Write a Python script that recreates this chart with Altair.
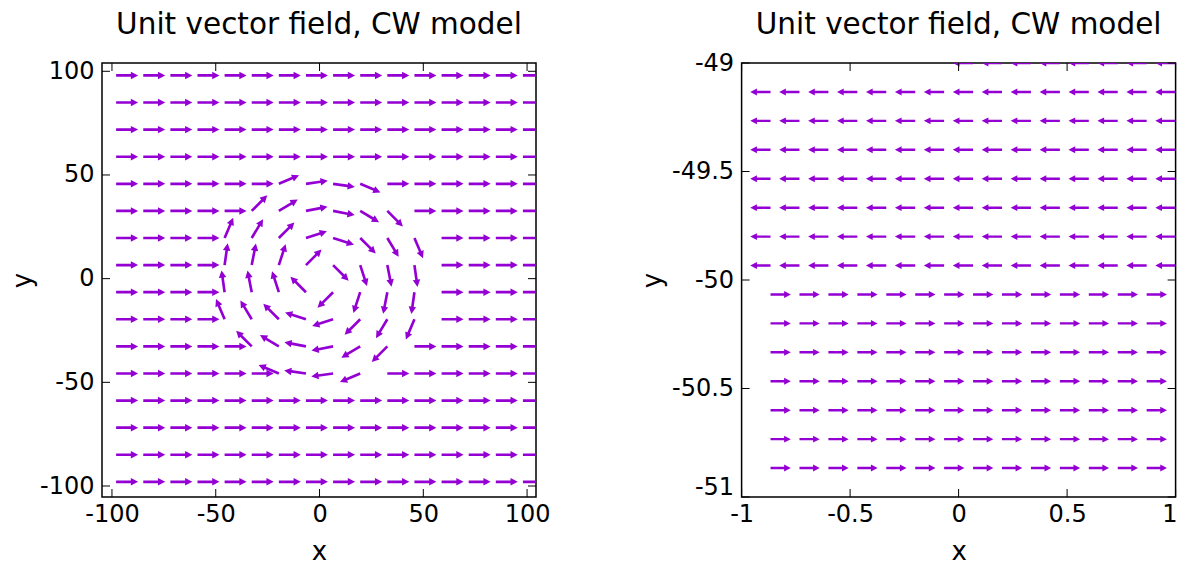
import altair as alt
import pandas as pd

TITLE = "Unit vector field, CW model"
PURPLE = "#9400d3"
FONT = "DejaVu Sans"

# ---------------- left panel: grid positions and arrow directions (deg, CCW from +x)
LEFT_X = [-98.0, -84.93, -71.87, -58.8, -45.73, -32.67, -19.6, -6.53,
          6.53, 19.6, 32.67, 45.73, 58.8, 71.87, 84.93, 98.0]
LEFT_Y = [98.0, 84.93, 71.87, 58.8, 45.73, 32.67, 19.6, 6.53,
          -6.53, -19.6, -32.67, -45.73, -58.8, -71.87, -84.93, -98.0]
LEFT_ANGLE = [
    [0, 0, 0, 0, 0, 0, 0, 0, 0, 0, 0, 0, 0, 0, 0, 0],
    [0, 0, 0, 0, 0, 0, 0, 0, 0, 0, 0, 0, 0, 0, 0, 0],
    [0, 0, 0, 0, 0, 0, 0, 0, 0, 0, 0, 0, 0, 0, 0, 0],
    [0, 0, 0, 0, 0, 0, 0, 0, 0, 0, 0, 0, 0, 0, 0, 0],
    [0, 0, 0, 0, 0, 0, 23, 8, -8, -23, 0, 0, 0, 0, 0, 0],
    [0, 0, 0, 0, 0, 45, 31, 11, -11, -31, -45, 0, 0, 0, 0, 0],
    [0, 0, 0, 0, 67, 59, 45, 18, -18, -45, -59, -67, 0, 0, 0, 0],
    [0, 0, 0, 0, 82, 79, 72, 45, -45, -72, -79, -82, 0, 0, 0, 0],
    [0, 0, 0, 0, 98, 101, 108, 135, -135, -108, -101, -98, 0, 0, 0, 0],
    [0, 0, 0, 0, 113, 121, 135, 162, -162, -135, -121, -113, 0, 0, 0, 0],
    [0, 0, 0, 0, 0, 135, 149, 169, -169, -149, -135, 0, 0, 0, 0, 0],
    [0, 0, 0, 0, 0, 0, 157, 172, -172, -157, 0, 0, 0, 0, 0, 0],
    [0, 0, 0, 0, 0, 0, 0, 0, 0, 0, 0, 0, 0, 0, 0, 0],
    [0, 0, 0, 0, 0, 0, 0, 0, 0, 0, 0, 0, 0, 0, 0, 0],
    [0, 0, 0, 0, 0, 0, 0, 0, 0, 0, 0, 0, 0, 0, 0, 0],
    [0, 0, 0, 0, 0, 0, 0, 0, 0, 0, 0, 0, 0, 0, 0, 0],
]
LEFT_XDOMAIN = [-104.8, 104.3]
LEFT_YDOMAIN = [-105.3, 104.0]
LEFT_XTICKS = [-100, -50, 0, 50, 100]
LEFT_YTICKS = [-100, -50, 0, 50, 100]

# ---------------- right panel (zoom near (0, -50))
RIGHT_X = [-0.8667, -0.7333, -0.6, -0.4667, -0.3333, -0.2, -0.0667, 0.0667,
           0.2, 0.3333, 0.4667, 0.6, 0.7333, 0.8667, 1.0]
RIGHT_Y = [-49.0, -49.1333, -49.2667, -49.4, -49.5333, -49.6667, -49.8, -49.9333,
           -50.0667, -50.2, -50.3333, -50.4667, -50.6, -50.7333, -50.8667]
RIGHT_ANGLE = [
    [90, 90, 90, 90, 90, 90, 90, 180, 180, 180, 180, 180, 180, 180, 180],
    [180, 180, 180, 180, 180, 180, 180, 180, 180, 180, 180, 180, 180, 180, 180],
    [180, 180, 180, 180, 180, 180, 180, 180, 180, 180, 180, 180, 180, 180, 180],
    [180, 180, 180, 180, 180, 180, 180, 180, 180, 180, 180, 180, 180, 180, 180],
    [180, 180, 180, 180, 180, 180, 180, 180, 180, 180, 180, 180, 180, 180, 180],
    [180, 180, 180, 180, 180, 180, 180, 180, 180, 180, 180, 180, 180, 180, 180],
    [180, 180, 180, 180, 180, 180, 180, 180, 180, 180, 180, 180, 180, 180, 180],
    [180, 180, 180, 180, 180, 180, 180, 180, 180, 180, 180, 180, 180, 180, 180],
    [0, 0, 0, 0, 0, 0, 0, 0, 0, 0, 0, 0, 0, 0, 0],
    [0, 0, 0, 0, 0, 0, 0, 0, 0, 0, 0, 0, 0, 0, 0],
    [0, 0, 0, 0, 0, 0, 0, 0, 0, 0, 0, 0, 0, 0, 0],
    [0, 0, 0, 0, 0, 0, 0, 0, 0, 0, 0, 0, 0, 0, 0],
    [0, 0, 0, 0, 0, 0, 0, 0, 0, 0, 0, 0, 0, 0, 0],
    [0, 0, 0, 0, 0, 0, 0, 0, 0, 0, 0, 0, 0, 0, 0],
    [0, 0, 0, 0, 0, 0, 0, 0, 0, 0, 0, 0, 0, 0, 0],
]
RIGHT_XDOMAIN = [-1.0, 1.0]
RIGHT_YDOMAIN = [-51.0, -49.0]
RIGHT_XTICKS = [-1, -0.5, 0, 0.5, 1]
RIGHT_YTICKS = [-51, -50.5, -50, -49.5, -49]

# arrow glyph: tail at the symbol origin, pointing to +x (normalised units)
ARROW = "M0,-0.12L1.34,-0.12L1.34,-0.34L2,0L1.34,0.34L1.34,0.12L0,0.12Z"

W = 434
H = 434
TICK = 8


def frame(xs, ys, angles):
    rows = []
    for j, yv in enumerate(ys):
        for i, xv in enumerate(xs):
            a = angles[j][i]
            rows.append({"x": xv, "y": yv, "rot": (-a) % 360})
    return pd.DataFrame(rows)


def panel(df, xdom, ydom, xticks, yticks, size, ytitle_x, right_panel,
          title_offset):
    xs = alt.Scale(domain=xdom, nice=False, zero=False)
    ys = alt.Scale(domain=ydom, nice=False, zero=False)
    lab = dict(labelFont=FONT, labelFontSize=24, labelColor="black",
               labelExpr="'' + datum.value", grid=False, domain=False,
               ticks=False, tickSize=0, titleFont=FONT, titleFontSize=26,
               titleFontWeight="normal", titleColor="black",
               labelFlush=False, labelOverlap=False)
    xalign = "center"
    xoff = 0
    yoff = 0
    if right_panel:
        xalign = {"condition": {"test": "datum.value >= 1", "value": "right"},
                  "value": "center"}
        xoff = {"condition": {"test": "datum.value >= 1", "value": 1.5},
                "value": 0}
        yoff = {"condition": {"test": "datum.value <= -51", "value": -10},
                "value": 0}
    xaxis = alt.Axis(orient="bottom", values=xticks, labelPadding=5,
                     labelAlign=xalign, labelOffset=xoff, titleX=W / 2,
                     titleY=54, titleBaseline="middle", titleAlign="center",
                     **lab)
    yaxis = alt.Axis(orient="left", values=yticks, labelPadding=8,
                     labelOffset=yoff,
                     titleX=ytitle_x, titleY=H / 2, titleAngle=270,
                     titleBaseline="middle", titleAlign="center", **lab)
    arrows = alt.Chart(df).mark_point(
        shape=ARROW, filled=True, opacity=1, color=PURPLE, size=size,
        clip=True, strokeWidth=0
    ).encode(
        x=alt.X("x:Q", scale=xs, axis=xaxis, title="x"),
        y=alt.Y("y:Q", scale=ys, axis=yaxis, title="y"),
        angle=alt.Angle("rot:Q", scale=None),
    )
    xt = pd.DataFrame({"v": xticks})
    yt = pd.DataFrame({"v": yticks})
    rule = dict(color="black", strokeWidth=1)
    xb = alt.Chart(xt).mark_rule(**rule).encode(
        x=alt.X("v:Q", scale=xs),
        y=alt.value(H), y2=alt.value(H - TICK))
    xtp = alt.Chart(xt).mark_rule(**rule).encode(
        x=alt.X("v:Q", scale=xs),
        y=alt.value(0), y2=alt.value(TICK))
    yl = alt.Chart(yt).mark_rule(**rule).encode(
        y=alt.Y("v:Q", scale=ys),
        x=alt.value(0), x2=alt.value(TICK))
    yr = alt.Chart(yt).mark_rule(**rule).encode(
        y=alt.Y("v:Q", scale=ys),
        x=alt.value(W), x2=alt.value(W - TICK))
    return alt.layer(arrows, xb, xtp, yl, yr).properties(
        width=W, height=H,
        title=alt.TitleParams(TITLE, font=FONT, fontSize=29.5, fontWeight="normal",
                              color="black", anchor="middle",
                              offset=title_offset),
    )


left_df = frame(LEFT_X, LEFT_Y, LEFT_ANGLE)
right_df = frame(RIGHT_X, RIGHT_Y, RIGHT_ANGLE)

left = panel(left_df, LEFT_XDOMAIN, LEFT_YDOMAIN, LEFT_XTICKS, LEFT_YTICKS,
             484, -80, False, 19.0)
right = panel(right_df, RIGHT_XDOMAIN, RIGHT_YDOMAIN, RIGHT_XTICKS, RIGHT_YTICKS,
              412, -89, True, 11)

chart = alt.hconcat(left, right, spacing=205.6, bounds="flush").properties(
    padding=0
).configure(font=FONT).configure_view(stroke="black", strokeWidth=1.5)

chart.save("out.html", embed_options={"renderer": "svg", "actions": False})
